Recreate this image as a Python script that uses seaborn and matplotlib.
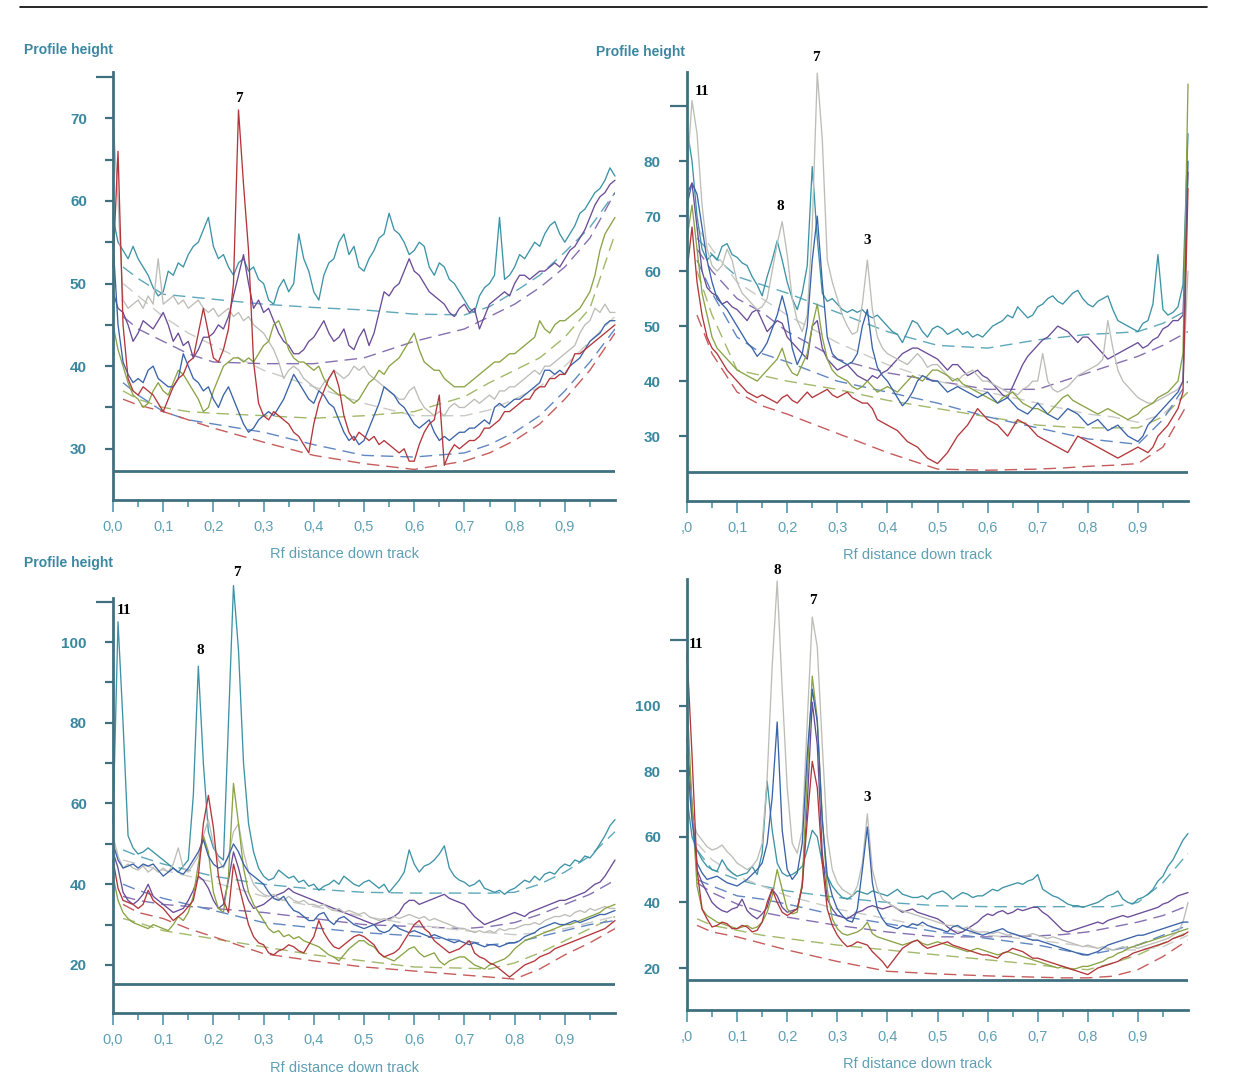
import numpy as np
import matplotlib
matplotlib.use("Agg")
import matplotlib.pyplot as plt
import seaborn as sns
from matplotlib.lines import Line2D

# ---------------- data ----------------
RF = np.round(np.arange(101) * 0.01, 2)          # Rf sampling grid 0.00 .. 1.00
BASE_RF = [0.02, 0.05, 0.1, 0.15, 0.2, 0.3, 0.4, 0.5, 0.6, 0.7, 0.75, 0.8, 0.85, 0.9, 0.95, 1.0]
X_TICKS = [0.0, 0.1, 0.2, 0.3, 0.4, 0.5, 0.6, 0.7, 0.8, 0.9]
X_LABELS = ["0,0", "0,1", "0,2", "0,3", "0,4", "0,5", "0,6", "0,7", "0,8", "0,9"]
X_LABELS_CUT = [",0", "0,1", "0,2", "0,3", "0,4", "0,5", "0,6", "0,7", "0,8", "0,9"]

# ---- top-left panel ----
TL_TEAL = [58, 55, 54, 53, 54.5, 53, 52, 51, 49.5, 48.5,
           49, 51.5, 51, 52.5, 52, 53.5, 54.5, 55, 56.5, 58,
           54.5, 53, 53.5, 52, 51, 52.5, 53, 51.5, 52, 50.5,
           50, 48, 47.5, 49.5, 50.5, 49, 50, 56, 53, 51.5,
           49, 48, 51, 52.5, 53, 55, 56, 53.5, 54.5, 52,
           51.5, 53, 54, 55.5, 56, 58.5, 56.5, 56, 55, 53.5,
           54, 55, 54.5, 52, 51, 52.5, 52, 50.5, 50, 49,
           48, 47, 46.5, 48.5, 49.5, 50, 51, 58, 50.5, 51,
           52, 53.5, 53, 54, 55, 54.5, 56, 57, 57.5, 56,
           55, 56, 57, 58.5, 59, 60, 61, 61.5, 62.5, 64,
           63]
TL_PURPLE = [49, 47, 46.5, 45, 43, 44, 45.5, 45, 44.5, 45.5,
             46.5, 45, 43, 44, 42.5, 43, 41, 42, 43.5, 43.5,
             44, 45, 44.5, 46, 48.5, 51, 53.5, 50, 47, 48,
             46.5, 47, 45.5, 44, 43, 42.5, 41.5, 41.5, 42, 43,
             43.5, 44.5, 45.5, 44, 43, 43.5, 44.5, 42.5, 42, 43.5,
             44.5, 42.5, 44, 46.5, 49, 48.5, 49.5, 50, 51.5, 53,
             51.5, 51, 50, 49, 48.5, 48, 47.5, 46.5, 46, 47,
             47.5, 46.5, 47, 44.5, 46, 47.5, 48, 48.5, 49, 48.5,
             50, 51, 51, 50.5, 51, 51.5, 51.5, 52, 52.5, 52,
             53, 54, 54.5, 55.5, 56.5, 58, 59.5, 60.5, 61, 62,
             62.5]
TL_GRAY = [70, 60, 48, 47, 47.5, 48, 47, 48.5, 47.5, 53,
           47.5, 48, 48.5, 47.5, 48, 47, 47.5, 48, 47, 46.5,
           47, 46, 46.5, 47, 46, 46.5, 45.5, 46, 45, 44.5,
           44, 43, 42, 40.5, 38.5, 39.5, 40, 39.5, 38.5, 38,
           37.5, 37, 38, 38.5, 39.5, 39, 38.5, 39, 40, 39.5,
           40, 39, 38.5, 38, 37.5, 37, 36.5, 36, 36, 37,
           37.5, 36, 35, 34.5, 34, 34.5, 34, 35, 35.5, 35,
           35, 35.5, 36, 35.5, 36, 36.5, 36, 37, 37, 37.5,
           37.5, 38, 38.5, 39, 39.5, 39, 40, 40, 40.5, 41,
           41.5, 42, 42.5, 44, 45, 45.5, 47, 46.5, 47.5, 46.5,
           46.5]
TL_GREEN = [45, 42, 40, 38, 36.5, 36, 35, 35.5, 37, 38,
            37, 36.5, 38, 39.5, 39, 38, 37, 36, 34.5, 35,
            37, 38.5, 40, 40.5, 41, 41, 40.5, 41, 40.5, 41.5,
            42.5, 43, 45, 45.5, 44, 42, 41, 40.5, 40.5, 40,
            39.5, 40, 38.5, 37.5, 37, 36.5, 36.5, 36, 35.5, 36,
            37, 38, 38.5, 39.5, 39, 40, 40.5, 41, 42, 43,
            44, 42, 40.5, 40, 39.5, 39.5, 38.5, 38, 37.5, 37.5,
            37.5, 38, 38.5, 39, 39.5, 40, 40.5, 40.5, 41, 41.5,
            41.5, 42, 42.5, 43, 43.5, 45.5, 44.5, 44, 45, 45.5,
            45.5, 46, 46.5, 47, 48, 49, 51, 54, 56, 57,
            58]
TL_BLUE = [55, 45, 40.5, 39, 38, 38.5, 38, 39.5, 40, 38.5,
           38, 37.5, 37.5, 38.5, 41.5, 40, 38.5, 38, 37, 37.5,
           36, 35, 36.5, 37.5, 36, 34.5, 33, 32, 32.5, 33.5,
           34, 34.5, 34, 35, 36, 37.5, 39, 38, 37, 36,
           35.5, 37, 36.5, 35.5, 35, 33.5, 32, 31, 31.5, 30.5,
           31, 32.5, 34, 35.5, 37.5, 37, 36.5, 35.5, 35, 34,
           33, 32.5, 33, 33.5, 32, 31, 31.5, 31, 31.5, 32,
           32, 32.5, 32.5, 33, 33.5, 33, 35, 35.5, 35, 35.5,
           36, 36, 36.5, 37, 37.5, 38, 39.5, 39.5, 39, 39.5,
           39, 40, 40.5, 41, 42, 43, 43.5, 44, 45, 45.5,
           45.5]
TL_RED = [52, 66, 45, 38.5, 37, 36.5, 37.5, 37, 36.5, 35.5,
          34.5, 36, 37.5, 38.5, 39, 40.5, 41, 44, 47, 44,
          41, 40.5, 42, 44.5, 50, 71, 62, 54, 40.5, 35.5,
          34, 33.5, 34.5, 34, 33.5, 33, 32, 31.5, 30.5, 29.5,
          33, 35.5, 37, 38.5, 39.5, 37.5, 34, 32, 31, 32,
          31.5, 31, 31.5, 30.5, 31, 30.5, 30, 29.5, 30, 28.5,
          28.5, 30.5, 32, 33, 33.5, 36.5, 28, 29.5, 30.5, 30,
          30.5, 31, 31, 31.5, 32.5, 32.5, 33, 33.5, 34.5, 34.5,
          35, 35.5, 36, 36, 37, 37.5, 37.5, 38.5, 38.5, 39,
          39, 40, 41.5, 41.5, 42, 42.5, 43, 43.5, 44, 44.5,
          45]
TL_BASE_TEAL = [52, 50.6, 48.7, 48.4, 48.1, 47.5, 47.1, 46.8, 46.3, 46.2, 47.2, 49, 51, 53.8, 56.8, 61]
TL_BASE_PURPLE = [46, 44.5, 43, 41.5, 40.5, 40.3, 40.3, 41, 43, 44.5, 46, 47.5, 49.5, 52, 55.5, 61]
TL_BASE_GRAY = [50, 48.5, 46, 44, 42.5, 39.5, 37.5, 35.5, 34, 34, 34.7, 36, 37.5, 40, 43, 46]
TL_BASE_GREEN = [37, 36, 35, 34.5, 34.3, 34, 33.7, 34, 34.5, 36.3, 38, 39.5, 41, 43.5, 47, 56]
TL_BASE_BLUE = [38, 36.5, 34.5, 33.5, 33, 32, 30.5, 29.2, 29, 29.5, 30.5, 32, 34, 37, 40.5, 44.5]
TL_BASE_RED = [36, 35.3, 34.5, 33.5, 32.5, 30.8, 29.2, 28.2, 27.5, 28.5, 29.5, 31, 33, 36, 39.5, 44]

# ---- top-right panel ----
TR_TEAL = [86, 80, 70, 64, 62, 63, 62, 64.5, 65, 63,
           62.5, 61.5, 61, 59, 57.5, 55.5, 59, 62, 65.5, 62,
           58, 55, 53, 56, 61, 79, 66, 56, 54.5, 55,
           54, 53, 52.5, 53, 52.5, 53, 52, 51.5, 52, 51,
           50, 49, 48.5, 47, 49, 51, 50.5, 49, 48, 49.5,
           50, 49.5, 48.5, 49, 49.5, 48.5, 49, 48, 48.5, 48,
           49, 50, 50.5, 51, 52, 51.5, 53.5, 52.5, 51.5, 52,
           53.5, 54, 55, 55.5, 54.5, 54, 55, 56, 56.5, 55,
           54, 53.5, 54.5, 55, 55.5, 53, 51, 50.5, 50, 49.5,
           49, 50.5, 51, 54, 63, 53, 52, 52.5, 53.5, 57.5,
           85]
TR_PURPLE = [74, 76, 68, 60, 57, 56, 55.5, 54, 54.5, 53.5,
             53, 52, 51, 52.5, 53, 51, 49, 50, 51, 50.5,
             48, 47, 46, 45, 44, 50, 51, 46, 44, 43,
             42, 42.5, 43, 42, 41, 40.5, 40, 41, 40.5, 41.5,
             42, 43, 44, 45, 45.5, 46, 46, 45.5, 45, 44.5,
             44, 43, 42, 43, 43, 42, 41, 41.5, 42, 41,
             40.5, 39.5, 38.5, 37.5, 37, 39, 41, 43, 44.5, 45.5,
             46.5, 47.5, 48, 49, 50, 49.5, 49, 48, 47, 48,
             48, 47, 46, 45, 44, 44.5, 45, 45.5, 46, 46.5,
             47, 46, 46.5, 47.5, 48, 49.5, 50, 51, 51, 52,
             78]
TR_GRAY = [78, 91, 85, 72, 64, 61, 60, 61, 64, 62,
           58, 56, 55, 54, 53, 53.5, 55, 60, 65, 69,
           63, 55, 51, 49, 52, 68, 96, 84, 62, 58,
           55, 52, 50, 48.5, 49, 54, 62, 53, 48, 46,
           45, 44.5, 44, 43.5, 43, 44, 45, 44, 42.5, 43,
           43, 42, 41, 40.5, 40, 41, 41.5, 42, 41, 40,
           40, 39.5, 39, 38.5, 38, 38, 37.5, 38.5, 39, 40,
           40, 45, 40, 38.5, 38, 38.5, 39, 40, 41, 41.5,
           42, 42.5, 43, 44, 51, 46, 42, 40, 39, 38,
           37, 36.5, 36, 36, 36.5, 37, 37.5, 38, 38.5, 40,
           60]
TR_GREEN = [66, 72, 64, 56, 52, 48, 46, 45, 44, 43,
            42, 41.5, 41, 40.5, 40, 41, 42, 43, 44, 46,
            43, 41.5, 41, 43, 45, 50, 54, 48, 44, 42,
            41, 40.5, 40, 39, 38.5, 39, 40, 39, 38, 38.5,
            39, 38.5, 38, 39, 40, 41, 40.5, 40, 41, 42,
            42, 41.5, 41, 40, 40.5, 39.5, 39, 38.5, 38, 37.5,
            37, 36.5, 36, 37, 37.5, 38, 37, 36, 35.5, 35,
            35, 34.5, 34, 35, 36, 37, 37.5, 36.5, 36, 35.5,
            35, 34.5, 34, 34.5, 35, 34.5, 34, 33.5, 33, 33.5,
            34, 35, 35.5, 36, 37, 37.5, 38, 39, 40, 45,
            94]
TR_BLUE = [72, 76, 74, 68, 62, 58, 55, 54, 53, 51.5,
           50, 48.5, 47, 46, 44.5, 45.5, 47, 49.5, 52, 55.5,
           52, 46, 43, 45, 50, 62, 70, 58, 48, 45,
           44, 43.5, 43, 43.5, 45, 50, 53, 46, 42.5, 41,
           40, 38.5, 37, 35.5, 36.5, 38, 40, 41, 40.5, 40,
           40, 39, 38, 38.5, 39, 38.5, 38, 37.5, 37, 37.5,
           38, 37, 36, 36.5, 37, 36, 35, 34.5, 34, 35,
           36, 35, 34, 33.5, 33, 34, 35, 34.5, 34, 33,
           32, 32.5, 33, 32, 31, 31.5, 32, 31, 30, 29.5,
           29, 30, 32, 33, 34, 35, 36, 37, 38, 40,
           80]
TR_RED = [60, 68, 58, 52, 48, 46, 45, 43.5, 42, 41,
          40, 39, 38, 37.5, 37, 37.5, 37, 36.5, 36, 37,
          37.5, 36.5, 36, 37, 38, 37, 37.5, 38, 38.5, 37.5,
          37, 37.5, 38, 37, 36.5, 36, 36, 35, 33, 32.5,
          32, 31.5, 31, 30, 29, 28.5, 28, 27, 26, 25.5,
          25, 26, 27, 28.5, 30, 31, 32, 33.5, 35, 34,
          33, 32.5, 32, 31, 30, 31.5, 33, 32.5, 32, 31,
          30, 29.5, 29, 28.5, 28, 27.5, 27, 28.5, 30, 29.5,
          29, 28.5, 28, 27.5, 27, 26.5, 26, 26.5, 27, 27.5,
          28, 27.5, 27, 28, 30, 31, 32, 33.5, 35, 38,
          75]
TR_BASE_TEAL = [66, 63, 59, 57.5, 56, 52.5, 49, 46.5, 46, 47.5, 48, 48.5, 48.7, 49, 50.5, 53]
TR_BASE_PURPLE = [64, 60, 55, 52.5, 49, 44, 41.5, 40, 38.5, 38.5, 40, 41.5, 43, 44.5, 46.5, 49]
TR_BASE_GRAY = [68, 64, 58, 55, 52, 47, 43, 40, 38, 36, 35, 34, 33.5, 32.5, 34, 38]
TR_BASE_GREEN = [60, 52, 42, 41, 40, 38.5, 36.5, 35, 33.5, 32, 31.7, 31.5, 31.5, 31.5, 33.5, 38]
TR_BASE_BLUE = [62, 56, 48, 45, 43.5, 40, 38, 36, 33.5, 31.5, 30.5, 29.5, 29, 28.5, 33, 40]
TR_BASE_RED = [52, 45, 38, 35.5, 34, 30.5, 27, 24, 23.8, 24, 24.2, 24.5, 24.7, 25, 28, 36]

# ---- bottom-left panel ----
BL_TEAL = [55, 105, 80, 52, 49, 47.5, 48, 49, 48, 47,
           46, 45, 44, 43, 44.5, 46, 62, 94, 70, 53,
           49, 47, 46, 80, 114, 98, 70, 55, 48, 44,
           42, 41, 41.5, 43.5, 42.5, 41.5, 42, 40.5, 41, 39.5,
           40, 38.5, 39.5, 40, 41, 40, 42, 41, 40, 39.5,
           40.5, 41, 40, 39, 40, 38, 39.5, 41, 43, 48.5,
           45, 43, 44.5, 45, 46, 47.5, 49.5, 44, 42, 41,
           40.5, 39.5, 40, 41, 39, 38.5, 38, 38.5, 37.5, 38.5,
           39, 40, 41, 40.5, 42, 41, 42.5, 43, 42.5, 44,
           45, 44.5, 46, 45.5, 47, 46.5, 48, 50, 52, 54.5,
           56]
BL_PURPLE = [48, 44, 38, 36, 35, 36, 37.5, 40, 37, 36,
             35, 34, 33, 33.5, 34, 36, 38.5, 42, 41, 39,
             36, 34, 35, 41, 48, 44, 39, 36, 34, 34.5,
             35, 36, 37, 37.5, 38, 39, 38, 37.5, 37, 36.5,
             36, 35.5, 35, 34.5, 34, 33.5, 33, 32.5, 32, 31.5,
             31, 30.5, 30, 30.5, 31, 31.5, 32, 33, 35, 36,
             36, 35, 35.5, 36, 36.5, 37, 37.5, 36.5, 36, 35.5,
             35, 33.5, 32, 31, 30, 30.5, 31, 31.5, 32, 32.5,
             33, 32.5, 32, 33, 33.5, 34, 34.5, 35, 35.5, 36,
             36, 36.5, 37, 37.5, 38, 39, 40, 40.5, 42, 44,
             46]
BL_GRAY = [52, 47, 44, 45, 44, 43.5, 44.5, 43, 44, 43,
           44, 43, 45, 49, 44, 43, 45, 47, 52, 56,
           50, 46, 44, 47, 53, 55, 48, 43, 40, 38.5,
           37.5, 37, 37.5, 36.5, 36, 37, 36, 35.5, 36, 35,
           35, 34.5, 35, 34, 33.5, 34, 33, 33.5, 33, 32.5,
           33, 32, 31.5, 31, 31.5, 31, 32, 31.5, 32, 32.5,
           32, 31.5, 32, 31, 31.5, 31, 30.5, 30, 29.5, 29,
           29, 28.5, 28, 28.5, 28, 28.5, 28, 29, 28.5, 29,
           29, 29.5, 30, 30, 30.5, 30, 31, 31.5, 32, 32,
           32.5, 32, 33, 33.5, 33, 34, 33.5, 34, 34.5, 34,
           34]
BL_GREEN = [42, 36, 33, 31.5, 30.5, 30, 29.5, 29, 30, 29.5,
            29, 28.5, 30, 32, 31, 33, 37, 45, 52, 48,
            38, 34, 33, 42, 65, 55, 44, 38, 35, 33,
            31, 29, 28, 28.5, 27, 27.5, 26.5, 27, 26, 25.5,
            25, 24.5, 23.5, 22.5, 22, 21, 22.5, 24, 25, 26,
            26, 25, 24.5, 23, 22, 21.5, 21, 22, 23, 24,
            24.5, 23, 22, 22.5, 23, 21, 20, 21, 21.5, 22,
            22, 21, 20, 19.5, 19, 20, 20.5, 21, 21.5, 22.5,
            24, 25, 26, 26.5, 27, 27.5, 28, 28.5, 29, 29.5,
            30, 30, 30.5, 31, 31.5, 32, 32.5, 33, 34, 34.5,
            35]
BL_BLUE = [50, 46, 44, 44.5, 45, 44, 45, 44.5, 45, 43.5,
           42, 43, 44, 43, 42.5, 44, 46, 48, 51, 47,
           45, 44, 44.5, 47, 50, 48, 45, 43, 42, 41,
           40, 38, 36.5, 36, 37, 35, 33.5, 33, 32, 31,
           31, 32.5, 33, 31, 30, 31.5, 32, 31, 30, 29.5,
           29, 29.5, 30, 28.5, 28, 28.5, 30, 29, 28.5, 28,
           28.5, 28, 27.5, 27, 27.5, 27, 26.5, 26, 25.5, 26,
           25.5, 25, 25.5, 25, 24.5, 25, 25, 24.5, 25, 25.5,
           25.5, 26, 27, 27.5, 28, 29, 29.5, 30, 30.5, 30,
           30, 30.5, 31, 30.5, 31, 31.5, 32, 32.5, 32.5, 33,
           33.5]
BL_RED = [46, 39, 36, 35.5, 35, 34, 35, 38.5, 36, 35,
          34, 32.5, 31, 32, 33, 34.5, 36, 42, 55, 62,
          54, 42, 36, 33, 45, 40, 35, 30, 27, 25.5,
          25, 23, 22.5, 23.5, 24, 25, 24.5, 23.5, 23, 25,
          27, 31, 28, 26, 24.5, 24, 25, 26, 27, 27.5,
          27, 26, 25, 23, 22, 22.5, 23, 24, 26, 28,
          30, 31, 29, 28, 26, 25, 24, 23, 23.5, 24,
          25, 26, 23, 22, 21.5, 20.5, 20, 19, 18, 17,
          18, 19, 20, 20.5, 21, 22, 22.5, 23, 24, 24.5,
          25, 25.5, 26, 26.5, 27, 27.5, 28, 28.5, 29, 30,
          31]
BL_BASE_TEAL = [48.5, 47, 45, 43.5, 42, 40, 38.8, 38, 37.8, 37.8, 37.8, 38, 40, 43, 47, 53]
BL_BASE_PURPLE = [37, 36, 35, 34.5, 34, 33, 31.5, 30, 29.5, 29, 29.5, 30.5, 32.5, 35, 37.5, 41]
BL_BASE_GRAY = [46, 45, 43.5, 42, 40.5, 37, 34.5, 32, 30, 28.5, 28, 27.5, 28, 29, 30.5, 32]
BL_BASE_GREEN = [31.5, 30.5, 28.5, 27.5, 26.5, 24.5, 22.5, 21, 19.5, 19.2, 19, 20.5, 23, 26, 29, 32]
BL_BASE_BLUE = [40, 38.5, 36.5, 35, 33.5, 30.5, 29.2, 28, 27.2, 26, 25, 25.5, 27, 28.5, 30, 31]
BL_BASE_RED = [35, 33, 31.5, 29, 27, 22.8, 21, 19.5, 18.5, 17.5, 17, 16.5, 19, 22.5, 25.5, 29]

# ---- bottom-right panel ----
BR_TEAL = [72, 60, 56, 53, 51, 50, 49.5, 53, 50.5, 49,
           48, 48.5, 49, 51, 48.5, 55, 77, 62, 52, 49,
           48, 48.5, 49.5, 51, 56, 62, 60, 52, 48, 45,
           43, 41.5, 41, 42, 43.5, 43, 42.5, 43.5, 43, 42.5,
           42, 43, 44, 42.5, 42, 41.5, 41.5, 42, 41, 42.5,
           43, 43.5, 42.5, 41, 42, 43, 42.5, 41.5, 42, 42,
           43, 44, 43.5, 44.5, 45, 45.5, 46, 45.5, 46.5, 47,
           48.5, 44, 43, 42, 41.5, 40.5, 39.5, 39, 39, 38.5,
           39, 39.5, 40, 41, 42, 42.5, 43.5, 41, 40, 39.5,
           41, 41.5, 42.5, 44, 46.5, 48, 51, 53, 56, 59,
           61]
BR_PURPLE = [90, 70, 50, 46, 43, 40, 38.5, 37.5, 37, 38,
             38.5, 41, 37.5, 36, 35, 36.5, 38.5, 44, 42, 38.5,
             37, 37.5, 38, 45, 70, 101, 88, 55, 41, 38,
             36, 35.5, 35, 36, 37, 37.5, 38.5, 39, 38.5, 38,
             38.5, 39, 38, 37, 37.5, 38, 37, 36.5, 36, 35.5,
             35, 34, 32.5, 31.5, 30.5, 31, 32, 33, 34, 35.5,
             36.5, 36, 37, 37.5, 36.5, 37, 38, 37.5, 38, 38.5,
             38.5, 37, 36, 34.5, 33, 31.5, 31, 31.5, 32, 32.5,
             33, 33.5, 34, 33.5, 34.5, 35, 35.5, 36, 35.5, 36,
             36.5, 37, 37.5, 38, 38.5, 39.5, 40, 41, 42, 42.5,
             43]
BR_GRAY = [80, 66, 61, 59, 57, 56, 56.5, 57.5, 55.5, 54,
           52, 51, 50, 51, 53, 58, 78, 112, 138, 105,
           75, 58, 55, 62, 95, 127, 118, 88, 60, 50,
           46, 44, 43, 42, 45, 52, 67, 50, 44, 41,
           40, 39, 38, 37.5, 37, 36.5, 36, 35.5, 35, 34.5,
           34, 33.5, 33, 33, 32.5, 32, 32.5, 31.5, 31, 31,
           31, 30.5, 31, 30.5, 30, 30.5, 30, 29.5, 30, 30.5,
           30, 29.5, 29, 29.5, 29, 28.5, 28, 27.5, 27, 26.5,
           27, 26.5, 26, 26.5, 26, 25.5, 26, 26.5, 26, 26.5,
           26, 26.5, 27, 27.5, 28, 28.5, 29, 30, 31, 34,
           40]
BR_GREEN = [102, 70, 45, 38, 36, 35, 34, 33.5, 33, 32.5,
            32, 32.5, 33, 32, 32.5, 34, 37, 42, 50, 44,
            38, 36.5, 37, 46, 78, 109, 96, 66, 44, 35,
            32, 30.5, 30, 30.5, 31, 32, 34, 30.5, 29.5, 29,
            28.5, 28, 27.5, 27, 27.5, 28, 28.5, 27.5, 27, 27.5,
            28, 27.5, 27, 26.5, 26, 25.5, 25, 25.5, 26, 25.5,
            25, 24.5, 24, 24.5, 25, 24.5, 24, 23.5, 23, 22.5,
            22, 21.5, 21, 20.5, 20, 20.5, 20, 19.5, 20, 20.5,
            20.5, 21, 21.5, 22, 23, 23.5, 24.5, 25, 26, 26.5,
            27, 27.5, 28, 28.5, 29, 29.5, 30, 30.5, 31, 31.5,
            32]
BR_BLUE = [85, 65, 52, 49, 47, 47.5, 48, 47, 46, 45.5,
           45, 46, 47, 48.5, 50, 52, 58, 72, 95, 62,
           50, 47, 49, 58, 85, 105, 95, 65, 48, 42,
           38, 36, 34.5, 34, 38, 50, 63, 46, 38, 35,
           33, 32.5, 32, 33, 32.5, 33.5, 33, 34, 33, 32.5,
           32, 31.5, 31, 32.5, 33, 32, 31.5, 31, 30.5, 30,
           30.5, 31, 31.5, 32, 31, 30.5, 30, 29.5, 29, 28.5,
           28.5, 28, 27.5, 27, 26.5, 26, 25.5, 25, 24.5, 24,
           24, 24.5, 25, 26, 27, 27.5, 28, 28.5, 29, 29.5,
           30, 30, 30.5, 31, 31.5, 32, 32.5, 33, 33.5, 34,
           34]
BR_RED = [116, 85, 50, 38, 35, 32.5, 33, 34, 33.5, 32,
          32, 33, 32.5, 31, 31.5, 34, 40, 44, 40, 37,
          36, 37, 38, 45, 65, 83, 75, 52, 38, 33,
          30, 28, 26.5, 27, 28, 27.5, 27, 25, 23.5, 22,
          20, 22, 24, 26, 27, 28, 28.5, 27, 26, 26.5,
          27, 27.5, 28, 27, 26.5, 26, 25.5, 25, 24.5, 24,
          24, 23.5, 23, 24.5, 25, 26, 25.5, 25, 24, 23,
          23, 22.5, 22, 21.5, 21, 20.5, 20, 19.5, 19, 18.5,
          18, 19, 20, 20.5, 21, 21.5, 22, 23, 23.5, 24.5,
          25, 25.5, 26, 26.5, 27, 27.5, 28, 29, 29.5, 30,
          31]
BR_BASE_TEAL = [56, 50, 47, 45, 43.5, 41.5, 40, 39, 38.7, 38.7, 38.7, 38.7, 38.7, 40, 46, 55]
BR_BASE_PURPLE = [46, 43, 39.5, 37, 35.5, 33, 31, 29.5, 29.5, 29.8, 30.2, 31, 32.5, 34, 36, 39]
BR_BASE_GRAY = [58, 53, 48, 45, 42, 38, 35, 32, 30, 28.5, 27.5, 26.5, 25.5, 25.5, 26.5, 30]
BR_BASE_GREEN = [35, 33, 31.5, 30, 29, 27, 25.5, 24, 22.5, 21, 20, 19.5, 21.5, 24, 27.5, 31]
BR_BASE_BLUE = [47, 45, 42, 41, 39.5, 36, 33.5, 31, 29, 27, 25.5, 24, 25.5, 27, 30, 33]
BR_BASE_RED = [33, 31, 29.5, 27.5, 25.5, 22, 19, 18.2, 17.6, 17.2, 17, 17, 17.5, 19.5, 23.5, 28.5]

# peak annotations (label, rf, height)
TL_PEAKS = [("7", 0.251, 72.4)]
TR_PEAKS = [("11", 0.03, 92.7), ("8", 0.186, 71.8), ("7", 0.258, 98.9), ("3", 0.36, 65.6)]
BL_PEAKS = [("11", 0.022, 107.9), ("8", 0.173, 97.8), ("7", 0.247, 117.1)]
BR_PEAKS = [("11", 0.018, 118.5), ("8", 0.18, 141.3), ("7", 0.252, 131.9), ("3", 0.36, 72.0)]

# ---------------- style ----------------
ORDER = ["teal", "purple", "gray", "green", "blue", "red"]
LINE_COLORS = {"teal": "#3d93a6", "purple": "#6a4c98", "gray": "#bdbdb8",
               "green": "#8aa345", "blue": "#3a63a8", "red": "#b3363a"}
DASH_COLORS = {"teal": "#5ea8ba", "purple": "#8670b0", "gray": "#cacac6",
               "green": "#a2b96a", "blue": "#6187c2", "red": "#c65c5c"}
AXC = "#40707f"
YLAB_C = "#3a87a0"
XLAB_C = "#5e9fb4"

sns.set_theme(style="white")
plt.rcParams["font.family"] = ["Liberation Sans", "DejaVu Sans"]

W, H = 1252, 1076
fig = plt.figure(figsize=(W / 100, H / 100), dpi=100)


def px_axes(l, t, r, b):
    return fig.add_axes([l / W, 1 - b / H, (r - l) / W, (b - t) / H])


PANELS = [
    dict(box=(113, 72, 615, 500), ylim=(23.8, 75.6), baseline=27.3,
         ymaj=[30, 40, 50, 60, 70], ymin=[35, 45, 55, 65], ytop=75,
         series=[TL_TEAL, TL_PURPLE, TL_GRAY, TL_GREEN, TL_BLUE, TL_RED],
         bases=[TL_BASE_TEAL, TL_BASE_PURPLE, TL_BASE_GRAY, TL_BASE_GREEN, TL_BASE_BLUE, TL_BASE_RED],
         peaks=TL_PEAKS, xl=X_LABELS, title=(24, 50), xlabel=(345, 554)),
    dict(box=(687, 72, 1188, 501), ylim=(18.2, 96.2), baseline=23.5,
         ymaj=[30, 40, 50, 60, 70, 80], ymin=[], ytop=90,
         series=[TR_TEAL, TR_PURPLE, TR_GRAY, TR_GREEN, TR_BLUE, TR_RED],
         bases=[TR_BASE_TEAL, TR_BASE_PURPLE, TR_BASE_GRAY, TR_BASE_GREEN, TR_BASE_BLUE, TR_BASE_RED],
         peaks=TR_PEAKS, xl=X_LABELS_CUT, title=(596, 52), xlabel=(917, 555)),
    dict(box=(113, 598, 615, 1013), ylim=(8.1, 110.9), baseline=15.3,
         ymaj=[20, 40, 60, 80, 100], ymin=[30, 50, 70, 90], ytop=110,
         series=[BL_TEAL, BL_PURPLE, BL_GRAY, BL_GREEN, BL_BLUE, BL_RED],
         bases=[BL_BASE_TEAL, BL_BASE_PURPLE, BL_BASE_GRAY, BL_BASE_GREEN, BL_BASE_BLUE, BL_BASE_RED],
         peaks=BL_PEAKS, xl=X_LABELS, title=(24, 563), xlabel=(345, 1068)),
    dict(box=(687, 579, 1188, 1010), ylim=(7.2, 138.6), baseline=16.4,
         ymaj=[20, 40, 60, 80, 100], ymin=[], ytop=120,
         series=[BR_TEAL, BR_PURPLE, BR_GRAY, BR_GREEN, BR_BLUE, BR_RED],
         bases=[BR_BASE_TEAL, BR_BASE_PURPLE, BR_BASE_GRAY, BR_BASE_GREEN, BR_BASE_BLUE, BR_BASE_RED],
         peaks=BR_PEAKS, xl=X_LABELS_CUT, title=None, xlabel=(917, 1064)),
]

for p in PANELS:
    for s in p["series"]:
        assert len(s) == len(RF), len(s)
    for b in p["bases"]:
        assert len(b) == len(BASE_RF), len(b)

for p in PANELS:
    ax = px_axes(*p["box"])
    ax.set_facecolor("none")
    for name, vals in zip(ORDER, p["bases"]):
        sns.lineplot(x=BASE_RF, y=vals, ax=ax, color=DASH_COLORS[name], linewidth=1.0,
                     linestyle=(0, (9, 5)), estimator=None, sort=False, legend=False)
    for name, vals in zip(ORDER, p["series"]):
        sns.lineplot(x=RF, y=vals, ax=ax, color=LINE_COLORS[name], linewidth=0.95,
                     estimator=None, sort=False, legend=False, clip_on=False)
    ax.axhline(p["baseline"], color=AXC, lw=2, zorder=1)
    ax.set_xlim(0, 1)
    ax.set_ylim(*p["ylim"])
    ax.set_xlabel("")
    ax.set_ylabel("")
    for sp in ["top", "right"]:
        ax.spines[sp].set_visible(False)
    for sp in ["left", "bottom"]:
        ax.spines[sp].set_color(AXC)
        ax.spines[sp].set_linewidth(2)

    # y ticks
    ax.set_yticks(p["ymaj"] + [p["ytop"]])
    ax.set_yticklabels([str(v) for v in p["ymaj"]] + [""])
    ax.set_yticks(p["ymin"], minor=True)
    ax.tick_params(axis="y", which="both", direction="out", left=True, length=5.8,
                   width=1.6, color=AXC, pad=13, labelsize=11, labelcolor=YLAB_C)
    for lab in ax.get_yticklabels():
        lab.set_fontweight("bold")
    ax.yaxis.get_major_ticks()[-1].tick1line.set_markersize(12.5)

    # x ticks
    ax.set_xticks(X_TICKS)
    ax.set_xticklabels(p["xl"])
    ax.set_xticks([0.05, 0.15, 0.25, 0.35, 0.45, 0.55, 0.65, 0.75, 0.85, 0.95], minor=True)
    ax.tick_params(axis="x", which="major", direction="out", bottom=True, length=8.6,
                   width=1.3, color=XLAB_C, pad=6, labelsize=10.5, labelcolor=XLAB_C)
    ax.tick_params(axis="x", which="minor", direction="out", bottom=True, length=5,
                   width=1.3, color=XLAB_C)

    for lab, xv, yv in p["peaks"]:
        ax.text(xv, yv, lab, ha="center", va="center", fontsize=11, fontweight="bold",
                family=["Liberation Serif", "DejaVu Serif"], color="black", clip_on=False)

    if p["title"] is not None:
        fig.text(p["title"][0] / W, 1 - p["title"][1] / H, "Profile height",
                 ha="left", va="center", fontsize=10, fontweight="bold", color=YLAB_C)
    fig.text(p["xlabel"][0] / W, 1 - p["xlabel"][1] / H, "Rf distance down track",
             ha="center", va="center", fontsize=10.5, color=XLAB_C)

fig.add_artist(Line2D([20 / W, 1207 / W], [1 - 7 / H, 1 - 7 / H], color="black", lw=1.2))

fig.savefig("out.png", dpi=100)
